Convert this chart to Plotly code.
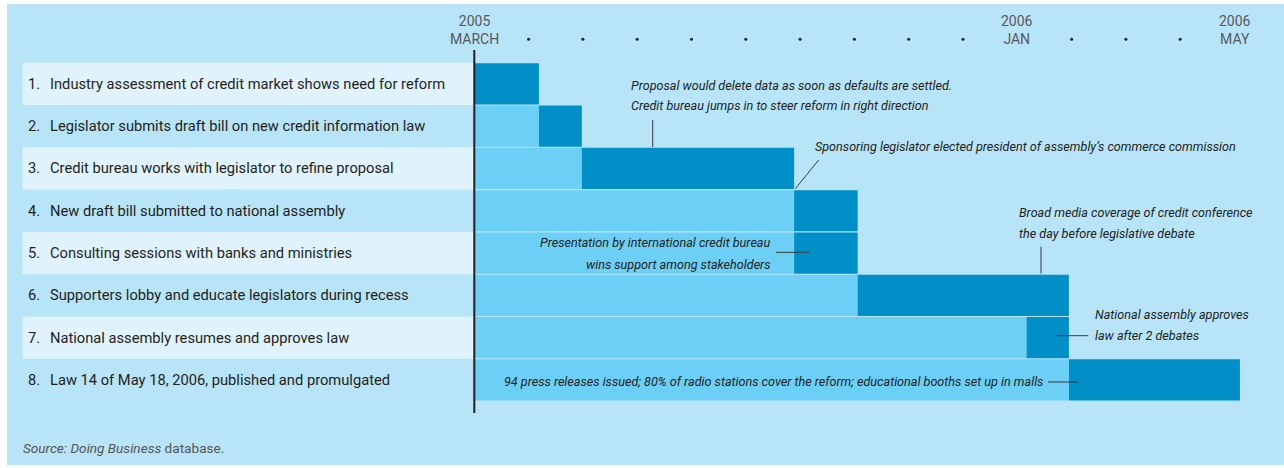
import plotly.graph_objects as go

# ---------------- data ----------------
stage_numbers = [1, 2, 3, 4, 5, 6, 7, 8]
stage_labels = [
    "Industry assessment of credit market shows need for reform",
    "Legislator submits draft bill on new credit information law",
    "Credit bureau works with legislator to refine proposal",
    "New draft bill submitted to national assembly",
    "Consulting sessions with banks and ministries",
    "Supporters lobby and educate legislators during recess",
    "National assembly resumes and approves law",
    "Law 14 of May 18, 2006, published and promulgated",
]
# months elapsed since March 2005
stage_start = [0.0, 1.19, 1.98, 5.89, 5.89, 7.06, 10.17, 10.95]
stage_end = [1.19, 1.98, 5.89, 7.06, 7.06, 10.95, 10.95, 14.10]

tick_months = list(range(0, 15))
tick_labels = {0: "2005<br>MARCH", 10: "2006<br>JAN", 14: "2006<br>MAY"}

# ---------------- geometry helpers (pixel layout) ----------------
W, H = 1284, 468
X0_PX, MONTH_PX = 474.3, 54.3
ROW1_PX, ROW_PX = 83.85, 42.3


def px_to_x(px):
    return (px - X0_PX) / MONTH_PX


def py_to_y(py):
    return 1 + (py - ROW1_PX) / ROW_PX


def pxp(px):
    return px / W


def pyp(py):
    return 1 - py / H


BG = "#B8E4F8"
BAND = "#E0F3FC"
LIGHT = "#6CCFF6"
DARK = "#008FC7"
INK = "#231F20"
GRAY = "#58595B"

LABEL_FONT = "Roboto, Lato, 'Open Sans', sans-serif"
NOTE_FONT = "Roboto, sans-serif"

fig = go.Figure()

waiting = [s for s in stage_start]
durations = [e - s for s, e in zip(stage_start, stage_end)]

fig.add_trace(go.Bar(
    y=stage_numbers, x=waiting, base=[0] * len(stage_numbers),
    orientation="h", marker=dict(color=LIGHT, line=dict(width=0)),
    width=0.975, hoverinfo="skip", showlegend=False,
))
fig.add_trace(go.Bar(
    y=stage_numbers, x=durations, base=stage_start,
    orientation="h", marker=dict(color=DARK, line=dict(width=0)),
    width=0.975, hoverinfo="skip", showlegend=False,
))

# month dots (ticks without labels)
dot_months = [m for m in tick_months if m not in tick_labels]
fig.add_trace(go.Scatter(
    x=dot_months, y=[py_to_y(39.3)] * len(dot_months), mode="markers",
    marker=dict(size=3, color=INK), hoverinfo="skip", showlegend=False,
))

shapes = []
# panel background
shapes.append(dict(type="rect", xref="paper", yref="paper",
                   x0=pxp(7), x1=pxp(1284), y0=pyp(465), y1=pyp(4),
                   fillcolor=BG, line=dict(width=0), layer="below"))
# label bands
for n in stage_numbers:
    if n % 2 == 1:
        shapes.append(dict(type="rect", xref="x", yref="y",
                           x0=px_to_x(22.7), x1=0, y0=n - 0.5, y1=n + 0.5,
                           fillcolor=BAND, line=dict(width=0), layer="below"))
# time axis line
shapes.append(dict(type="line", xref="x", yref="paper", x0=px_to_x(474.3), x1=px_to_x(474.3),
                   y0=pyp(50), y1=pyp(413), line=dict(color=INK, width=2)))

# leader lines (pixel coordinates)
leaders = [
    ((652.7, 120), (652.7, 147)),
    ((818.7, 160), (795.5, 188.5)),
    ((776, 252.3), (809.3, 252.3)),
    ((1041, 246.7), (1041, 273.5)),
    ((1056, 335.7), (1088.3, 335.7)),
    ((1048, 382), (1078.3, 382)),
]
for (xa, ya), (xb, yb) in leaders:
    shapes.append(dict(type="line", xref="paper", yref="paper",
                       x0=pxp(xa), y0=pyp(ya), x1=pxp(xb), y1=pyp(yb),
                       line=dict(color="#3A3A3A", width=1)))

annotations = []
# stage labels
for n, lab in zip(stage_numbers, stage_labels):
    annotations.append(dict(xref="paper", yref="y", x=pxp(26), y=n,
                            text=f"{n}.", showarrow=False, xanchor="left", yanchor="middle",
                            font=dict(family=LABEL_FONT, size=14.7, color=INK)))
    annotations.append(dict(xref="paper", yref="y", x=pxp(48), y=n,
                            text=lab, showarrow=False, xanchor="left", yanchor="middle",
                            font=dict(family=LABEL_FONT, size=14.7, color=INK)))

# time tick labels
for m, t in tick_labels.items():
    annotations.append(dict(xref="x", yref="paper", x=m, y=pyp(30),
                            text=t, showarrow=False, xanchor="center", yanchor="middle",
                            font=dict(family=LABEL_FONT, size=14, color=GRAY)))

# notes: (text, x_px, y_px, anchor)
notes = [
    ("Proposal would delete data as soon as defaults are settled.", 629, 85, "left"),
    ("Credit bureau jumps in to steer reform in right direction", 629, 106, "left"),
    ("Sponsoring legislator elected president of assembly\u2019s commerce commission", 813, 146, "left"),
    ("Presentation by international credit bureau", 773, 242.7, "right"),
    ("wins support among stakeholders", 773, 264, "right"),
    ("Broad media coverage of credit conference", 1017, 212.7, "left"),
    ("the day before legislative debate", 1017, 233.3, "left"),
    ("National assembly approves", 1092.7, 314, "left"),
    ("law after 2 debates", 1092.7, 335.7, "left"),
    ("94 press releases issued; 80% of radio stations cover the reform; educational booths set up in malls",
     502, 381.7, "left"),
]
for text, x, y, anc in notes:
    annotations.append(dict(xref="paper", yref="paper", x=pxp(x), y=pyp(y),
                            text=f"<i>{text}</i>", showarrow=False, xanchor=anc, yanchor="middle",
                            font=dict(family=NOTE_FONT, size=12.6, color=INK)))

annotations.append(dict(xref="paper", yref="paper", x=pxp(21), y=pyp(448),
                        text="<i>Source: Doing Business</i> database.", showarrow=False,
                        xanchor="left", yanchor="middle",
                        font=dict(family=LABEL_FONT, size=13.6, color="#555555")))

fig.update_layout(
    width=W, height=H,
    margin=dict(l=0, r=0, t=0, b=0),
    paper_bgcolor="white", plot_bgcolor="rgba(0,0,0,0)",
    barmode="overlay",
    xaxis=dict(range=[px_to_x(0), px_to_x(W)], visible=False, fixedrange=True),
    yaxis=dict(range=[py_to_y(H), py_to_y(0)], visible=False, fixedrange=True),
    shapes=shapes, annotations=annotations,
)

fig.write_html("out.html", post_script="document.body.style.margin='0';",
               config={"displayModeBar": False})
